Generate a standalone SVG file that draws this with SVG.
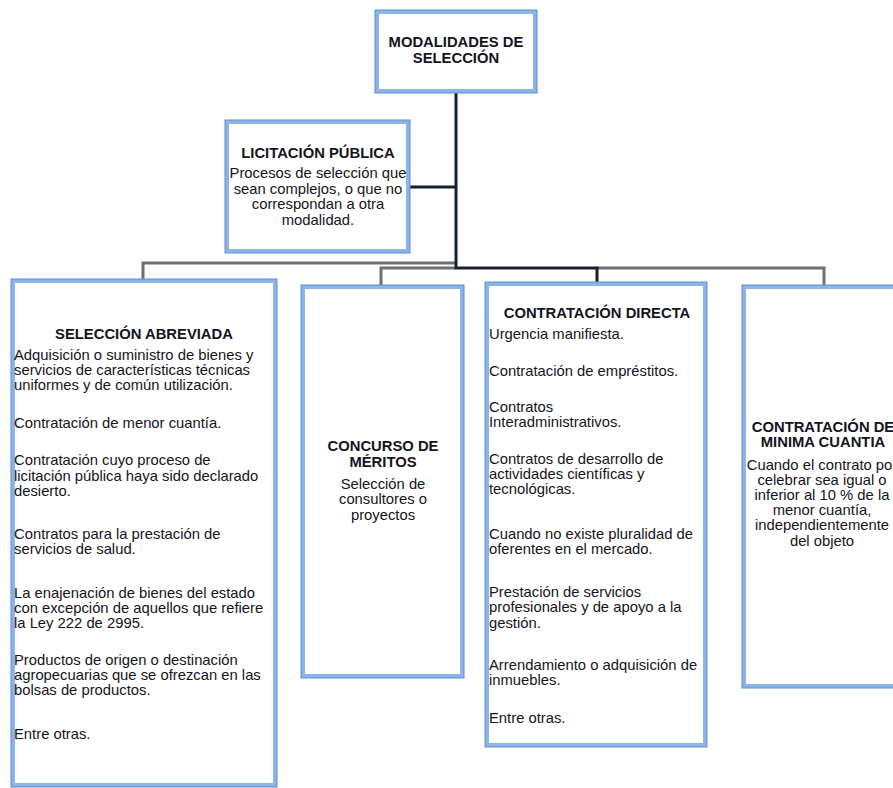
<svg xmlns="http://www.w3.org/2000/svg" width="893" height="788" viewBox="0 0 893 788">
<style>
.box{fill:#fff;stroke:#8db4e8;stroke-width:4}
.edge{fill:none;stroke:#5d8dcc;stroke-width:1}
.t{font-family:"Liberation Sans",Arial,sans-serif;font-size:14.8px;fill:#141420}
.b{font-weight:bold}
.c{text-anchor:middle}
.dark{fill:none;stroke:#18202e;stroke-width:3}
.gray{fill:none;stroke:#6f6f73;stroke-width:3}
</style>
<rect width="893" height="788" fill="#fff"/>
<g id="connectors">
<path class="gray" d="M456 263 H143 V280"/>
<path class="gray" d="M456 268 H381 V286"/>
<path class="gray" d="M597 268 H824 V285"/>
<path class="dark" d="M456 92 V268 H597 V283"/>
<path class="dark" d="M410 187 H456"/>
</g>
<g id="modalidades">
<rect class="box" x="377" y="12" width="158" height="79"/>
<rect class="edge" x="375" y="10" width="162" height="83"/>
<text class="t b c" x="456" y="47">MODALIDADES DE</text>
<text class="t b c" x="456" y="63">SELECCIÓN</text>
</g>
<g id="licitacion">
<rect class="box" x="227" y="122" width="181" height="129"/>
<rect class="edge" x="225" y="120" width="185" height="133"/>
<text class="t b c" x="318" y="158">LICITACIÓN PÚBLICA</text>
<text class="t c" x="318" y="178">Procesos de selección que</text>
<text class="t c" x="318" y="194">sean complejos, o que no</text>
<text class="t c" x="318" y="209">correspondan a otra</text>
<text class="t c" x="318" y="225">modalidad.</text>
</g>
<g id="seleccion">
<rect class="box" x="13" y="281" width="262" height="504"/>
<rect class="edge" x="11" y="279" width="266" height="508"/>
<text class="t b c" x="144" y="339">SELECCIÓN ABREVIADA</text>
<text class="t" x="14" y="360">Adquisición o suministro de bienes y</text>
<text class="t" x="14" y="375">servicios de características técnicas</text>
<text class="t" x="14" y="390">uniformes y de común utilización.</text>
<text class="t" x="14" y="428">Contratación de menor cuantía.</text>
<text class="t" x="14" y="465">Contratación cuyo proceso de</text>
<text class="t" x="14" y="481">licitación pública haya sido declarado</text>
<text class="t" x="14" y="496">desierto.</text>
<text class="t" x="14" y="539">Contratos para la prestación de</text>
<text class="t" x="14" y="554">servicios de salud.</text>
<text class="t" x="14" y="598">La enajenación de bienes del estado</text>
<text class="t" x="14" y="613">con excepción de aquellos que refiere</text>
<text class="t" x="14" y="628">la Ley 222 de 2995.</text>
<text class="t" x="14" y="665">Productos de origen o destinación</text>
<text class="t" x="14" y="680">agropecuarias que se ofrezcan en las</text>
<text class="t" x="14" y="695">bolsas de productos.</text>
<text class="t" x="14" y="739">Entre otras.</text>
</g>
<g id="concurso">
<rect class="box" x="303" y="287" width="159" height="389"/>
<rect class="edge" x="301" y="285" width="163" height="393"/>
<text class="t b c" x="383" y="451">CONCURSO DE</text>
<text class="t b c" x="383" y="467">MÉRITOS</text>
<text class="t c" x="383" y="489">Selección de</text>
<text class="t c" x="383" y="504">consultores o</text>
<text class="t c" x="383" y="520">proyectos</text>
</g>
<g id="directa">
<rect class="box" x="487" y="284" width="218" height="461"/>
<rect class="edge" x="485" y="282" width="222" height="465"/>
<text class="t b c" x="597" y="318">CONTRATACIÓN DIRECTA</text>
<text class="t" x="489" y="339">Urgencia manifiesta.</text>
<text class="t" x="489" y="376">Contratación de empréstitos.</text>
<text class="t" x="489" y="412">Contratos</text>
<text class="t" x="489" y="427">Interadministrativos.</text>
<text class="t" x="489" y="464">Contratos de desarrollo de</text>
<text class="t" x="489" y="479">actividades científicas y</text>
<text class="t" x="489" y="494">tecnológicas.</text>
<text class="t" x="489" y="539">Cuando no existe pluralidad de</text>
<text class="t" x="489" y="554">oferentes en el mercado.</text>
<text class="t" x="489" y="597">Prestación de servicios</text>
<text class="t" x="489" y="612">profesionales y de apoyo a la</text>
<text class="t" x="489" y="628">gestión.</text>
<text class="t" x="489" y="670">Arrendamiento o adquisición de</text>
<text class="t" x="489" y="685">inmuebles.</text>
<text class="t" x="489" y="723">Entre otras.</text>
</g>
<g id="minima">
<rect class="box" x="744" y="287" width="160" height="399"/>
<rect class="edge" x="742" y="285" width="164" height="403"/>
<text class="t b c" x="823" y="432">CONTRATACIÓN DE</text>
<text class="t b c" x="823" y="447">MINIMA CUANTIA</text>
<text class="t c" x="822" y="470">Cuando el contrato por</text>
<text class="t c" x="822" y="485">celebrar sea igual o</text>
<text class="t c" x="822" y="500">inferior al 10 % de la</text>
<text class="t c" x="822" y="515">menor cuantía,</text>
<text class="t c" x="822" y="530">independientemente</text>
<text class="t c" x="822" y="546">del objeto</text>
</g>
</svg>
